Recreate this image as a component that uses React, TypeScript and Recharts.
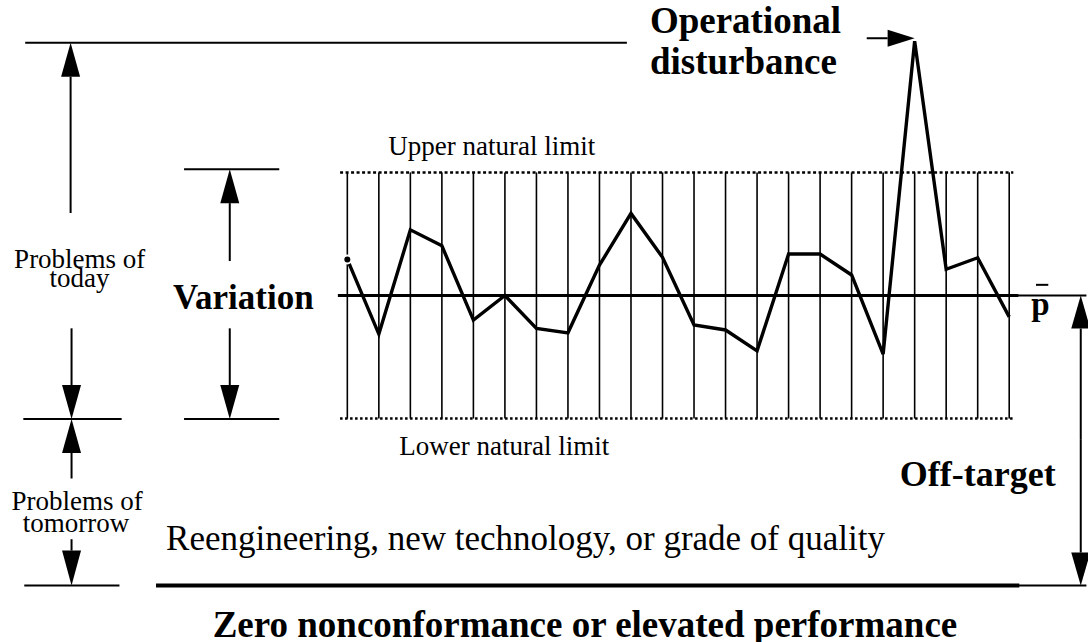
import { LineChart, Line, XAxis, YAxis, ReferenceLine, ReferenceDot } from 'recharts';

// control chart samples, in sigma units around the centre line (p-bar = 0)
const sampleValues = [
  0.88, -0.94, 1.6, 1.21, -0.6, 0, -0.8, -0.91, 0.74, 2.0, 0.93,
  -0.72, -0.84, -1.35, 1.01, 1.01, 0.5, -1.43, 6.2, 0.64, 0.92, -0.52,
];
const upperLimit = 3;
const lowerLimit = -3;
const centerLine = 0;

// reference levels of the diagram (sigma units)
const topLevel = 6.16;
const bottomLevel = -7.07;

const data = sampleValues.map((v, i) => ({ i, v }));

const serif = "'Liberation Serif', 'Times New Roman', serif";

type Pt = { x: number; y: number };

// plain annotation lines
const lines: { a: Pt; b: Pt; w: number; dash?: string }[] = [
  { a: { x: -10.22, y: topLevel }, b: { x: 8.87, y: topLevel }, w: 2 },
  { a: { x: -5.18, y: 3.08 }, b: { x: -2.16, y: 3.08 }, w: 2 },
  { a: { x: -5.18, y: -3.01 }, b: { x: -2.16, y: -3.01 }, w: 2 },
  { a: { x: -10.28, y: -3.01 }, b: { x: -7.16, y: -3.01 }, w: 2 },
  { a: { x: -10.25, y: bottomLevel }, b: { x: -7.23, y: bottomLevel }, w: 2 },
  { a: { x: -6.07, y: bottomLevel }, b: { x: 21.32, y: bottomLevel }, w: 4 },
  { a: { x: 20.87, y: centerLine }, b: { x: 23.45, y: centerLine }, w: 2 },
  { a: { x: 20.87, y: bottomLevel }, b: { x: 23.45, y: bottomLevel }, w: 2 },
  { a: { x: -0.3, y: centerLine }, b: { x: 21.29, y: centerLine }, w: 3.2 },
  { a: { x: -0.23, y: upperLimit }, b: { x: 21.13, y: upperLimit }, w: 2.5, dash: '3 2.5' },
  { a: { x: -0.23, y: lowerLimit }, b: { x: 21.13, y: lowerLimit }, w: 2.5, dash: '2.5 2.5' },
  { a: { x: 21.85, y: 0.26 }, b: { x: 22.24, y: 0.26 }, w: 2 },
];

// arrows, head at b
const arrows: { a: Pt; b: Pt; head: number; half: number }[] = [
  { a: { x: -8.78, y: 2.01 }, b: { x: -8.78, y: topLevel }, head: 34, half: 9.5 },
  { a: { x: -8.75, y: -0.8 }, b: { x: -8.75, y: -3.01 }, head: 34, half: 9.5 },
  { a: { x: -8.75, y: -4.46 }, b: { x: -8.75, y: -3.01 }, head: 34, half: 9.5 },
  { a: { x: -8.75, y: -5.94 }, b: { x: -8.75, y: bottomLevel }, head: 35, half: 9.5 },
  { a: { x: -3.73, y: 0.84 }, b: { x: -3.73, y: 3.08 }, head: 34, half: 9.5 },
  { a: { x: -3.73, y: -0.8 }, b: { x: -3.73, y: -3.01 }, head: 34, half: 9.5 },
  { a: { x: 23.27, y: -3.5 }, b: { x: 23.27, y: centerLine }, head: 33, half: 9.5 },
  { a: { x: 23.27, y: -3.5 }, b: { x: 23.27, y: bottomLevel }, head: 33, half: 9.5 },
  { a: { x: 16.48, y: 6.27 }, b: { x: 18.0, y: 6.27 }, head: 27, half: 8.5 },
];

const labels: { text: string; x: number; y: number; size: number; bold?: boolean; anchor: 'start' | 'middle' }[] = [
  { text: 'Problems of', x: -8.49, y: 0.66, size: 27, anchor: 'middle' },
  { text: 'today', x: -8.5, y: 0.21, size: 27, anchor: 'middle' },
  { text: 'Variation', x: -3.3, y: -0.34, size: 35, bold: true, anchor: 'middle' },
  { text: 'Upper natural limit', x: 4.58, y: 3.42, size: 27, anchor: 'middle' },
  { text: 'Lower natural limit', x: 4.98, y: -3.89, size: 27, anchor: 'middle' },
  { text: 'Problems of', x: -8.57, y: -5.24, size: 27, anchor: 'middle' },
  { text: 'tomorrow', x: -8.61, y: -5.76, size: 27, anchor: 'middle' },
  { text: 'Reengineering, new technology, or grade of quality', x: -5.75, y: -6.2, size: 35, anchor: 'start' },
  { text: 'Off-target', x: 17.53, y: -4.64, size: 36, bold: true, anchor: 'start' },
  { text: 'Operational', x: 9.6, y: 6.39, size: 37, bold: true, anchor: 'start' },
  { text: 'disturbance', x: 9.6, y: 5.4, size: 37, bold: true, anchor: 'start' },
  { text: 'Zero nonconformance or elevated performance', x: 7.54, y: -8.32, size: 37, bold: true, anchor: 'middle' },
  { text: 'p', x: 21.7, y: -0.48, size: 33, bold: true, anchor: 'start' },
];

const arrowShape = (head: number, half: number) => (p: any) => {
  const { x1, y1, x2, y2 } = p;
  const dx = x2 - x1;
  const dy = y2 - y1;
  const len = Math.hypot(dx, dy) || 1;
  const ux = dx / len;
  const uy = dy / len;
  const bx = x2 - ux * head;
  const by = y2 - uy * head;
  const pts = `${x2},${y2} ${bx - uy * half},${by + ux * half} ${bx + uy * half},${by - ux * half}`;
  return (
    <g>
      <line x1={x1} y1={y1} x2={bx} y2={by} stroke="#000" strokeWidth={2} />
      <polygon points={pts} fill="#000" />
    </g>
  );
};

const textShape = (l: (typeof labels)[number]) => (p: any) => (
  <text
    x={p.cx}
    y={p.cy}
    textAnchor={l.anchor}
    fontFamily={serif}
    fontSize={l.size}
    fontWeight={l.bold ? 'bold' : 'normal'}
    fill="#000"
  >
    {l.text}
  </text>
);

export default function App() {
  return (
    <div style={{ position: 'absolute', left: 0, top: 0, background: '#fff' }}>
      <LineChart width={1088} height={642} data={data} margin={{ top: 0, right: 0, bottom: 0, left: 0 }}>
        <XAxis hide type="number" dataKey="i" domain={[-11.02, 23.5]} allowDataOverflow />
        <YAxis hide type="number" domain={[-8.445, 7.202]} allowDataOverflow />

        {sampleValues.map((_, i) => (
          <ReferenceLine
            key={`v${i}`}
            segment={[{ x: i, y: upperLimit }, { x: i, y: lowerLimit }]}
            stroke="#000"
            strokeWidth={1.6}
          />
        ))}

        {lines.map((l, k) => (
          <ReferenceLine
            key={`l${k}`}
            segment={[l.a, l.b]}
            stroke="#000"
            strokeWidth={l.w}
            strokeDasharray={l.dash}
          />
        ))}

        {arrows.map((a, k) => (
          <ReferenceLine
            key={`a${k}`}
            segment={[a.a, a.b]}
            stroke="#000"
            shape={arrowShape(a.head, a.half)}
          />
        ))}

        <Line
          type="linear"
          dataKey="v"
          stroke="#000"
          strokeWidth={3.4}
          strokeLinejoin="miter"
          dot={false}
          isAnimationActive={false}
        />

        {labels.map((l, k) => (
          <ReferenceDot key={`t${k}`} x={l.x} y={l.y} r={0} shape={textShape(l)} />
        ))}
      </LineChart>
    </div>
  );
}
